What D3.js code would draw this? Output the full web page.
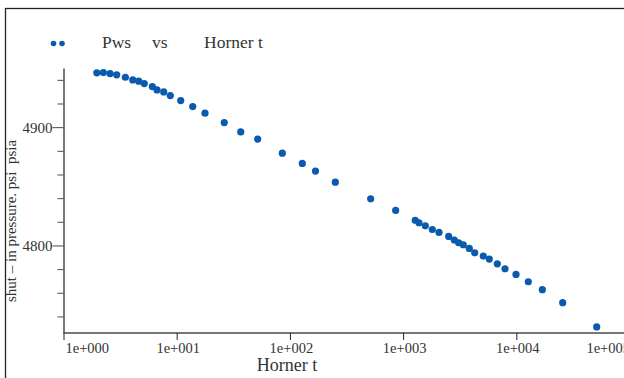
<!DOCTYPE html>
<html>
<head>
<meta charset="utf-8">
<script src="https://cdn.jsdelivr.net/npm/d3@7"></script>
<style>
  html, body { margin: 0; padding: 0; background: #fff; }
  svg { display: block; }
  .lbl { fill: #333; white-space: pre; font-family: "Liberation Serif", "Times New Roman", serif; }
</style>
</head>
<body>
<svg id="chart" width="624" height="378"></svg>
<script>
// Horner time ratio (x) and shut-in pressure Pws, psia (y)
const hornerT = [
  1.97, 2.25, 2.58, 2.95, 3.52, 4.09, 4.62, 5.17, 6.09, 6.70,
  7.68, 8.78, 10.85, 13.85, 17.78, 26.3, 36.8, 51.9, 85.7, 128.7,
  168.3, 251.8, 517, 860, 1279, 1382, 1571, 1811, 2076, 2528,
  2834, 3098, 3402, 3844, 4291, 5110, 5774, 6795, 7948, 9940,
  12763, 16970, 25700, 51320
];
const pws = [
  4945.9, 4946.1, 4945.3, 4944.2, 4942.2, 4939.9, 4938.9, 4936.8, 4934.3, 4931.5,
  4929.8, 4926.7, 4922.5, 4917.4, 4911.8, 4903.9, 4896.0, 4889.9, 4878.0, 4869.3,
  4862.9, 4853.5, 4839.4, 4829.6, 4821.3, 4819.2, 4816.6, 4813.5, 4811.0, 4807.6,
  4804.6, 4802.3, 4800.6, 4797.5, 4793.8, 4791.0, 4788.5, 4784.5, 4780.3, 4775.5,
  4769.3, 4762.6, 4751.6, 4731.1
];
const xTicks = [1, 10, 100, 1000, 10000, 100000];
const yTicks = [4740, 4760, 4780, 4800, 4820, 4840, 4860, 4880, 4900, 4920, 4940];
const yLabelled = [4800, 4900];
const legendWords = ['Pws', 'vs', 'Horner t'];

const DOT = '#0a5aae';
const AXIS = '#4a4a4a';

const svg = d3.select('#chart');

// outer frame (only left/top edges fall inside the window)
svg.append('rect')
  .attr('x', 5.5).attr('y', 8.5).attr('width', 700).attr('height', 500)
  .attr('fill', 'none').attr('stroke', '#222').attr('stroke-width', 1.3);

const x = d3.scaleLog().domain([1, 100000]).range([63.5, 629.5]);
const y = d3.scaleLinear().domain([4726, 4950]).range([333, 68]);

// x axis — end labels are pulled inward like the original
const last = xTicks.length - 1;
const gx = svg.append('g').attr('transform', `translate(0,${y.range()[0]})`)
  .call(d3.axisBottom(x).tickValues(xTicks).tickSize(7).tickSizeOuter(0)
    .tickFormat(d => '1e+' + String(Math.round(Math.log10(d))).padStart(3, '0')));
gx.select('.domain').attr('stroke', AXIS).attr('stroke-width', 1.5)
  .attr('d', `M${x(1)},0H700`);
gx.selectAll('.tick line').attr('stroke', '#222');
gx.selectAll('.tick text')
  .attr('class', 'lbl').attr('font-size', 14.5)
  .attr('y', 20).attr('dy', 0)
  .attr('text-anchor', (d, i) => i === 0 ? 'start' : i === last ? 'end' : 'middle')
  .attr('x', (d, i) => i === 0 ? 1.5 : i === last ? 0 : 1);

// y axis
const gy = svg.append('g').attr('transform', `translate(${x.range()[0]},0)`)
  .call(d3.axisLeft(y).tickValues(yTicks).tickSize(6).tickSizeOuter(0)
    .tickFormat(d => yLabelled.includes(d) ? d : ''));
gy.select('.domain').attr('stroke', AXIS).attr('stroke-width', 1.5);
gy.selectAll('.tick line').attr('stroke', AXIS)
  .attr('x2', d => yLabelled.includes(d) ? -11 : -6);
gy.selectAll('.tick text')
  .attr('class', 'lbl').attr('font-size', 15)
  .attr('x', -11).attr('dy', '0.34em');

// axis titles
svg.append('text').attr('class', 'lbl')
  .attr('x', 287).attr('y', 371).attr('text-anchor', 'middle')
  .attr('font-size', 18).text('Horner t');
svg.append('text').attr('class', 'lbl')
  .attr('transform', 'translate(16,221) rotate(-90)').attr('text-anchor', 'middle')
  .attr('font-size', 15).text('shut \u2013 in pressure. psi  psia');

// data points
svg.append('g').selectAll('circle')
  .data(hornerT.map((t, i) => [t, pws[i]]))
  .join('circle')
  .attr('cx', d => x(d[0])).attr('cy', d => y(d[1]))
  .attr('r', 3.6).attr('fill', DOT);

// legend
const lg = svg.append('g');
lg.selectAll('circle').data([53.5, 62]).join('circle')
  .attr('cx', d => d).attr('cy', 43.5).attr('r', 2.8).attr('fill', DOT);
lg.selectAll('text').data(legendWords).join('text')
  .attr('class', 'lbl').attr('font-size', 17.5)
  .attr('x', (d, i) => [102, 152, 204][i]).attr('y', 47.5)
  .text(d => d);
</script>
</body>
</html>
